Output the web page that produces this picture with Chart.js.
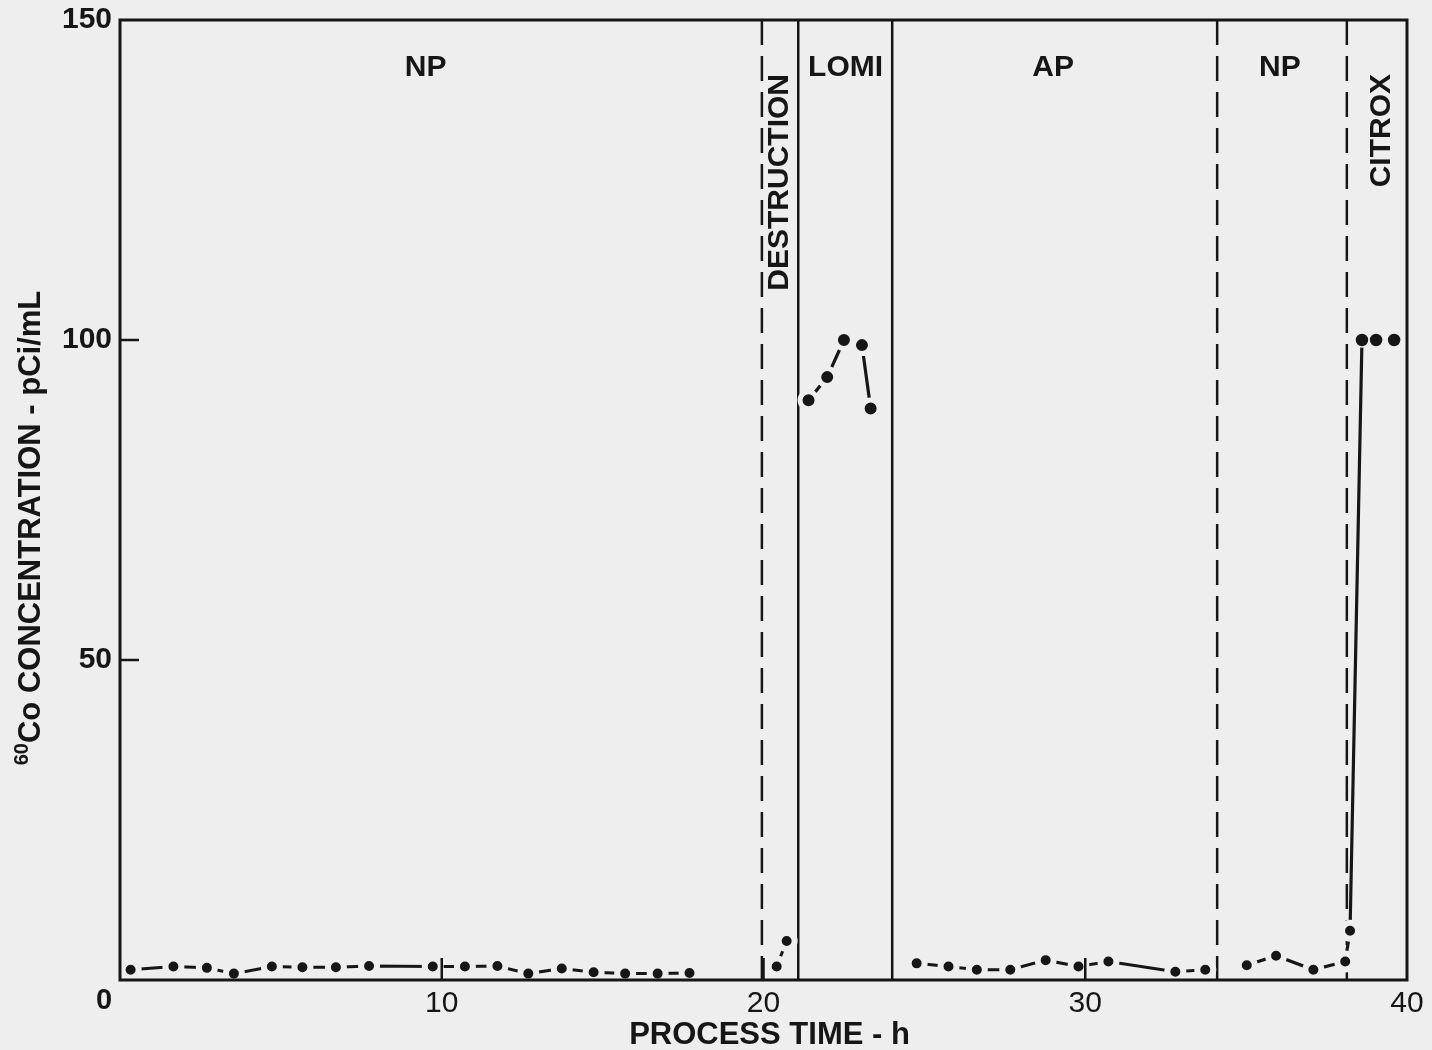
<!DOCTYPE html>
<html>
<head>
<meta charset="utf-8">
<title>60Co concentration vs process time</title>
<script src="https://cdn.jsdelivr.net/npm/chart.js@4.4.1/dist/chart.umd.min.js"></script>
<style>
  html, body { margin: 0; padding: 0; background: #eeeeee; }
  #wrap { width: 1432px; height: 1050px; }
</style>
</head>
<body>
<div id="wrap"><canvas id="c" width="1432" height="1050"></canvas></div>
<script>
// ---- data (process time in h, 60Co concentration in pCi/mL) ----
const np1Hours  = [0.33, 1.66, 2.70, 3.54, 4.72, 5.67, 6.71, 7.74, 9.72, 10.72, 11.73, 12.69, 13.73, 14.72, 15.70, 16.71, 17.70];
const np1Conc   = [1.6, 2.1, 1.9, 1.0, 2.1, 2.0, 2.0, 2.2, 2.1, 2.1, 2.2, 1.0, 1.8, 1.2, 1.0, 1.0, 1.1];
const destHours = [20.41, 20.72];
const destConc  = [2.1, 6.1];
const lomiHours = [21.40, 21.98, 22.50, 23.06, 23.33];
const lomiConc  = [90.6, 94.2, 100.0, 99.2, 89.3];
const apHours   = [24.76, 25.75, 26.63, 27.67, 28.77, 29.79, 30.72, 32.80, 33.73];
const apConc    = [2.6, 2.1, 1.6, 1.6, 3.1, 2.1, 2.9, 1.3, 1.6];
const np2Hours  = [35.02, 35.93, 37.09, 38.08, 38.23, 38.60, 39.04];
const np2Conc   = [2.3, 3.8, 1.6, 2.9, 7.7, 100.0, 100.0];
const citHours  = [39.60];
const citConc   = [100.0];

// ---- axes ----
const xTicks = [0, 10, 20, 30, 40];
const yTicks = [0, 50, 100, 150];
const xTitle = 'PROCESS TIME - h';
const yTitleSup = '60';
const yTitle = 'Co CONCENTRATION - pCi/mL';

// ---- process phases ----
const phaseNames      = ['NP', 'DESTRUCTION', 'LOMI', 'AP', 'NP', 'CITROX'];
const phaseBounds     = [0, 19.95, 21.08, 24.0, 34.1, 38.13, 40];
const phaseLabelHours = [9.5, 20.5, 22.55, 29.0, 36.05, 39.2];
const dividerKinds    = ['dashed', 'solid', 'solid', 'dashed', 'dashed'];

const BG = '#eeeeee';
const INK = '#161616';
const FONT = '"Liberation Sans", Arial, Helvetica, sans-serif';

const pts = (xs, ys) => xs.map((x, i) => ({ x: x, y: ys[i] }));

function series(label, xs, ys, extra) {
  return Object.assign({
    label: label,
    data: pts(xs, ys),
    borderColor: INK,
    borderWidth: 3,
    tension: 0,
    fill: false,
    pointBackgroundColor: INK,
    pointBorderColor: BG,
    pointRadius: 8,
    pointBorderWidth: 6,
    pointHoverRadius: 8
  }, extra || {});
}

const phasePlugin = {
  id: 'phases',
  beforeDraw(chart) {
    const ctx = chart.ctx;
    ctx.save();
    ctx.fillStyle = BG;
    ctx.fillRect(0, 0, chart.width, chart.height);
    ctx.restore();
  },
  beforeDatasetsDraw(chart) {
    const { ctx, chartArea: a, scales: { x } } = chart;
    ctx.save();
    ctx.strokeStyle = INK;
    ctx.lineWidth = 2.5;
    dividerKinds.forEach((kind, i) => {
      const px = x.getPixelForValue(phaseBounds[i + 1]);
      ctx.setLineDash(kind === 'dashed' ? [25, 11] : []);
      ctx.beginPath();
      ctx.moveTo(px, a.top);
      ctx.lineTo(px, a.bottom);
      ctx.stroke();
    });
    ctx.restore();
  },
  afterDraw(chart) {
    const { ctx, chartArea: a, scales: { x, y } } = chart;
    ctx.save();
    // frame
    ctx.strokeStyle = INK;
    ctx.lineWidth = 3;
    ctx.setLineDash([]);
    ctx.strokeRect(a.left, a.top, a.right - a.left, a.bottom - a.top);
    // inward tick marks
    ctx.lineWidth = 2.5;
    xTicks.forEach(v => {
      if (v <= x.min || v >= x.max) return;
      const px = x.getPixelForValue(v);
      ctx.beginPath(); ctx.moveTo(px, a.bottom); ctx.lineTo(px, a.bottom - 22); ctx.stroke();
    });
    yTicks.forEach(v => {
      if (v <= y.min || v >= y.max) return;
      const py = y.getPixelForValue(v);
      ctx.beginPath(); ctx.moveTo(a.left, py); ctx.lineTo(a.left + 19, py); ctx.stroke();
    });
    // shared origin label
    ctx.fillStyle = INK;
    ctx.font = 'bold 29px ' + FONT;
    ctx.textAlign = 'center';
    ctx.textBaseline = 'middle';
    ctx.fillText(String(xTicks[0]), x.getPixelForValue(0) - 16, y.getPixelForValue(0) + 21);

    // phase labels
    ctx.font = 'bold 30px ' + FONT;
    phaseNames.forEach((name, i) => {
      const px = x.getPixelForValue(phaseLabelHours[i]);
      const room = x.getPixelForValue(phaseBounds[i + 1]) - x.getPixelForValue(phaseBounds[i]);
      const w = ctx.measureText(name).width;
      if (w + 8 < room) {
        ctx.textAlign = 'center';
        ctx.textBaseline = 'middle';
        ctx.fillText(name, px, a.top + 48);
      } else {
        ctx.save();
        ctx.translate(px, a.top + 54);
        ctx.rotate(-Math.PI / 2);
        ctx.textAlign = 'right';
        ctx.textBaseline = 'middle';
        ctx.fillText(name, 0, 0);
        ctx.restore();
      }
    });

    // x-axis title
    ctx.font = 'bold 31px ' + FONT;
    ctx.textAlign = 'center';
    ctx.textBaseline = 'middle';
    ctx.fillText(xTitle, (a.left + a.right) / 2 + 6, 1035);

    // y-axis title with superscript mass number
    ctx.save();
    ctx.translate(29, 528);
    ctx.rotate(-Math.PI / 2);
    const mainFont = 'bold 31px ' + FONT;
    const supFont = 'bold 20px ' + FONT;
    ctx.font = mainFont;
    const wMain = ctx.measureText(yTitle).width;
    ctx.font = supFont;
    const wSup = ctx.measureText(yTitleSup).width;
    const start = -(wMain + wSup) / 2;
    ctx.textAlign = 'left';
    ctx.textBaseline = 'alphabetic';
    ctx.fillText(yTitleSup, start, -1);
    ctx.font = mainFont;
    ctx.fillText(yTitle, start + wSup, 11);
    ctx.restore();

    ctx.restore();
  }
};

new Chart(document.getElementById('c'), {
  type: 'line',
  data: {
    datasets: [
      series('NP', np1Hours, np1Conc),
      series('DESTRUCTION', destHours, destConc),
      series('LOMI', lomiHours, lomiConc, { pointRadius: 8.5, pointBorderWidth: 5, pointHoverRadius: 8.5, borderWidth: 3.2 }),
      series('AP', apHours, apConc),
      series('NP / CITROX', np2Hours, np2Conc, {
        borderWidth: 3.2,
        pointRadius: c => (c.raw && c.raw.y > 50 ? 7 : 8),
        pointBorderWidth: c => (c.raw && c.raw.y > 50 ? 1.5 : 6)
      }),
      series('CITROX', citHours, citConc, { pointRadius: 7, pointBorderWidth: 1.5, showLine: false })
    ]
  },
  options: {
    responsive: false,
    devicePixelRatio: 1,
    animation: false,
    events: [],
    layout: { padding: { left: 0, right: 25, top: 20, bottom: 0 } },
    plugins: { legend: { display: false }, tooltip: { enabled: false } },
    scales: {
      x: {
        type: 'linear',
        min: xTicks[0],
        max: xTicks[xTicks.length - 1],
        afterFit: s => { s.height = 70; s.paddingLeft = 0; s.paddingRight = 0; },
        afterBuildTicks: s => { s.ticks = xTicks.map(v => ({ value: v })); },
        grid: { display: false, drawTicks: false },
        border: { display: false },
        ticks: {
          padding: 6,
          color: INK,
          font: { family: FONT, size: 30 },
          maxRotation: 0,
          callback: v => (v === 0 ? '' : String(v))
        }
      },
      y: {
        type: 'linear',
        min: yTicks[0],
        max: yTicks[yTicks.length - 1],
        afterFit: s => { s.width = 120; s.paddingTop = 0; s.paddingBottom = 0; },
        afterBuildTicks: s => { s.ticks = yTicks.map(v => ({ value: v })); },
        grid: { display: false, drawTicks: false },
        border: { display: false },
        ticks: {
          padding: 8,
          color: INK,
          font: { family: FONT, size: 30, weight: 'bold' },
          callback: v => (v === 0 ? '' : String(v))
        }
      }
    }
  },
  plugins: [phasePlugin]
});
</script>
</body>
</html>
